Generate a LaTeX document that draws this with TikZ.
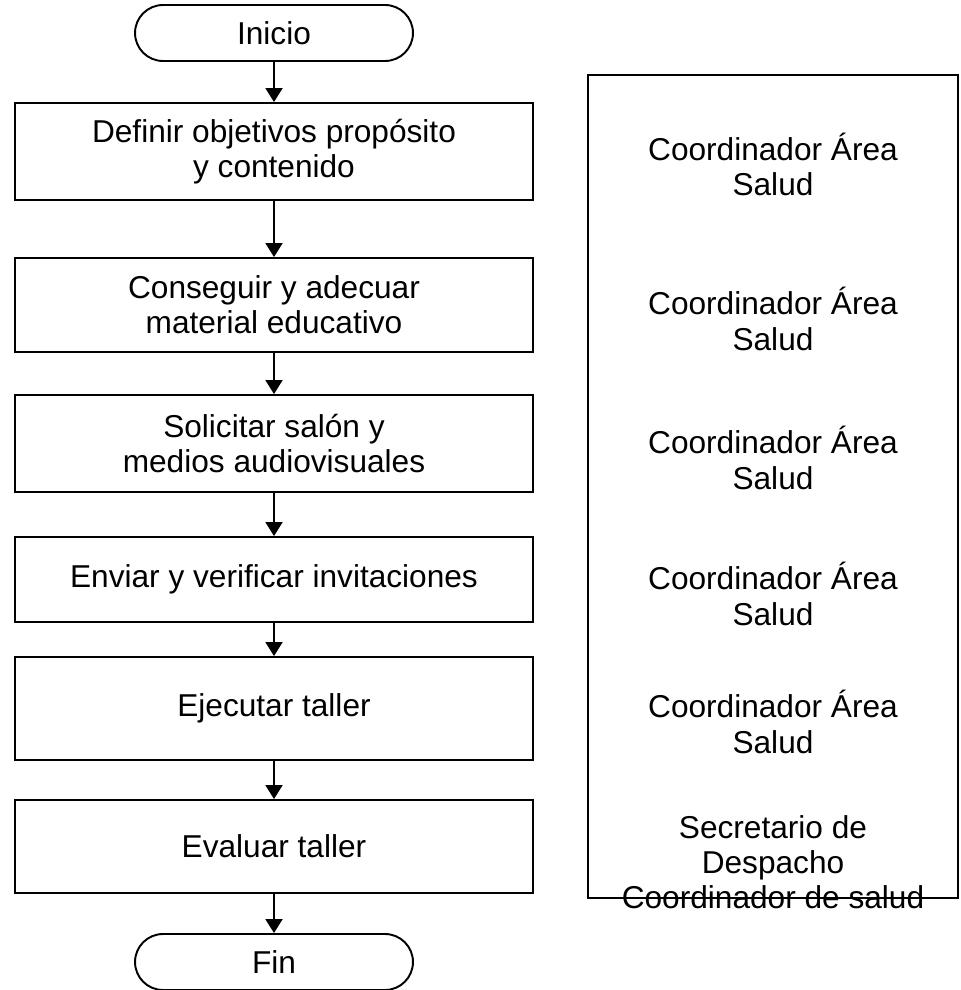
\documentclass[tikz,border=0pt]{standalone}
\usepackage{fontspec}
\setmainfont{Liberation Sans}
\usetikzlibrary{arrows.meta,shapes.misc}

\begin{document}
\begin{tikzpicture}[x=0.02cm,y=-0.02cm,
  >={Triangle[length=0.28cm,width=0.34cm]},
  every node/.style={font=\fontsize{18}{20}\selectfont,align=center},
  paso/.style={draw,line width=1.1pt,minimum width=10.36cm,inner sep=0pt},
  terminal/.style={draw,line width=1.1pt,rounded rectangle,
    minimum width=5.56cm,minimum height=1.12cm,inner sep=0pt},
  flecha/.style={->,line width=1.1pt}]

\useasboundingbox (0,0) rectangle (960,990);

%=== Flujo principal ===
\node[terminal] (ini) at (274,33) {Inicio};

\node[paso,minimum height=1.94cm] (p1) at (274,151.5)
  {Definir objetivos propósito\\ y contenido};
\node[paso,minimum height=1.88cm] (p2) at (274,305)
  {Conseguir y adecuar\\material educativo};
\node[paso,minimum height=1.94cm] (p3) at (274,443.5)
  {Solicitar salón y\\medios audiovisuales};
\node[paso,minimum height=1.70cm] (p4) at (274,579.5)
  {Enviar y verificar invitaciones};
\node[paso,minimum height=2.06cm] (p5) at (274,708.5)
  {Ejecutar taller};
\node[paso,minimum height=1.86cm] (p6) at (274,846.5)
  {Evaluar taller};

\node[terminal] (fin) at (274,962) {Fin};

% Conectores
\draw[flecha] (ini) -- (p1);
\draw[flecha] (p1) -- (p2);
\draw[flecha] (p2) -- (p3);
\draw[flecha] (p3) -- (p4);
\draw[flecha] (p4) -- (p5);
\draw[flecha] (p5) -- (p6);
\draw[flecha] (p6) -- (fin);

%=== Columna de responsables ===
\draw[line width=1.1pt] (588,75) rectangle (958,898);

\node (r1) at (773,164.5) {Coordinador Área\\Salud};
\node (r2) at (773,319) {Coordinador Área\\Salud};
\node (r3) at (773,458) {Coordinador Área\\Salud};
\node (r4) at (773,594) {Coordinador Área\\Salud};
\node (r5) at (773,722) {Coordinador Área\\Salud};
\node (r6) at (773,862) {Secretario de\\Despacho\\Coordinador de salud};

\end{tikzpicture}
\end{document}
